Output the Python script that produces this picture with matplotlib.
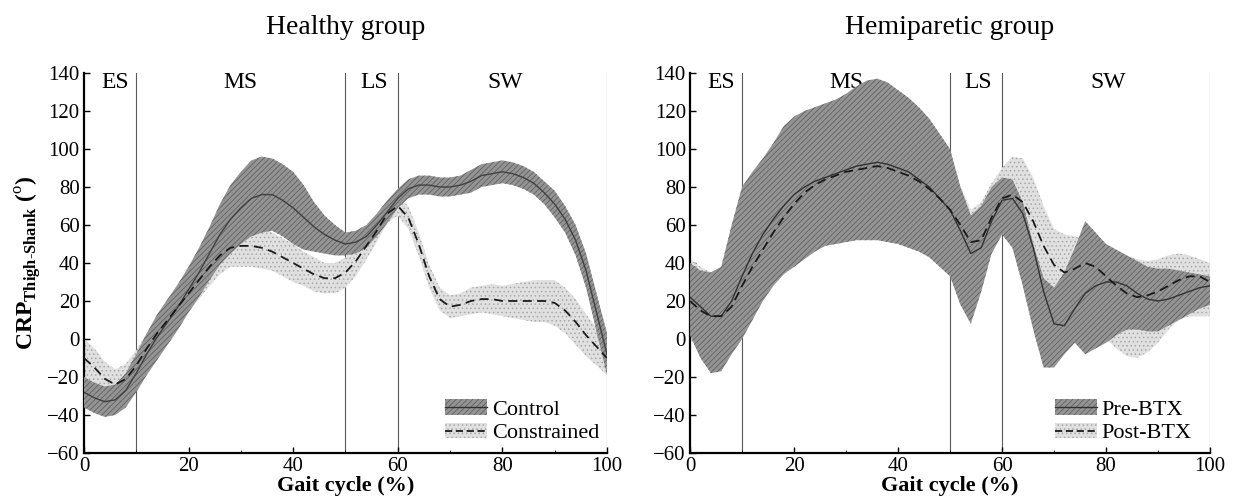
import matplotlib
matplotlib.use("Agg")
import matplotlib.pyplot as plt
import numpy as np
from matplotlib.patches import Patch
from matplotlib.lines import Line2D

plt.rcParams['font.family'] = ['Liberation Serif', 'DejaVu Serif']
plt.rcParams['mathtext.fontset'] = 'custom'
plt.rcParams['mathtext.rm'] = 'Liberation Serif'
plt.rcParams['mathtext.bf'] = 'Liberation Serif:bold'
plt.rcParams['hatch.linewidth'] = 0.6

# gait cycle (%) sampled every 2 %
gait = np.arange(0, 101, 2)

# Healthy group: control (solid) mean and half band
control_mean = [-28, -31, -33, -32, -27, -18, -8, 1, 9, 17, 26, 35, 45, 55, 63, 69, 74, 76, 76, 73,
                69, 64, 59, 55, 52, 50, 51, 54, 60, 67, 74, 79, 81, 81, 80, 80, 81, 83, 86, 87,
                88, 87, 85, 82, 77, 71, 63, 52, 36, 14, -8]
control_sd = [8, 8, 8, 8, 9, 10, 11, 12, 12, 12, 12, 13, 14, 16, 18, 19, 20, 20, 19, 19,
              19, 17, 13, 10, 8, 6, 6, 6, 6, 6, 5, 5, 5, 5, 5, 5, 5, 6, 6, 6,
              6, 6, 6, 6, 6, 7, 7, 8, 9, 10, 11]
# Healthy group: constrained (dashed)
constr_mean = [-10, -15, -21, -24, -21, -14, -5, 3, 10, 17, 24, 31, 38, 44, 48, 49, 49, 48, 46, 43,
               40, 37, 34, 32, 32, 35, 41, 49, 57, 66, 70, 64, 50, 33, 21, 17, 18, 20, 21, 21,
               20, 20, 20, 20, 20, 19, 15, 9, 2, -4, -10]
constr_sd = [10, 10, 9, 8, 8, 8, 8, 8, 8, 9, 9, 10, 10, 10, 10, 11, 11, 11, 10, 10,
             10, 9, 9, 8, 8, 8, 8, 7, 6, 5, 5, 6, 6, 6, 6, 6, 6, 7, 7, 8,
             8, 9, 10, 11, 11, 12, 12, 12, 11, 10, 9]

# Hemiparetic group: pre-BTX (solid)
pre_mean = [22, 17, 12, 12, 20, 33, 45, 55, 63, 70, 76, 80, 83, 85, 87, 89, 91, 92, 93, 92,
            90, 88, 84, 80, 74, 68, 57, 45, 48, 62, 73, 74, 66, 48, 25, 8, 7, 16, 24, 28,
            30, 30, 28, 24, 21, 20, 21, 23, 25, 27, 28]
pre_hi = [40, 36, 35, 38, 60, 80, 88, 95, 103, 112, 117, 120, 122, 124, 126, 129, 133, 136, 137, 135,
          131, 127, 122, 116, 108, 100, 80, 65, 70, 80, 85, 84, 72, 50, 32, 27, 35, 48, 62, 56,
          50, 47, 44, 41, 38, 37, 37, 36, 35, 34, 33]
pre_lo = [2, -10, -18, -17, -8, 0, 10, 20, 28, 34, 38, 42, 46, 49, 50, 51, 52, 52, 52, 51,
          50, 48, 46, 43, 38, 33, 18, 8, 25, 45, 55, 48, 28, 5, -15, -15, -8, -2, -8, -5,
          -2, 2, 5, 5, 4, 4, 7, 10, 13, 16, 18]
# Hemiparetic group: post-BTX (dashed)
post_mean = [20, 15, 12, 12, 17, 28, 38, 47, 56, 64, 71, 77, 81, 84, 86, 88, 89, 90, 91, 90,
             88, 86, 83, 79, 74, 68, 60, 51, 52, 64, 74, 76, 72, 62, 49, 39, 35, 37, 40, 38,
             33, 28, 24, 22, 23, 25, 28, 31, 33, 33, 30]
post_hi = [42, 38, 35, 38, 48, 60, 68, 76, 84, 92, 97, 100, 103, 106, 108, 110, 111, 112, 112, 111,
           110, 108, 105, 101, 97, 92, 80, 68, 72, 82, 90, 96, 95, 85, 70, 58, 55, 54, 52, 50,
           48, 46, 44, 42, 41, 42, 44, 45, 44, 42, 40]
post_lo = [0, -6, -10, -6, 0, 5, 12, 20, 28, 36, 44, 50, 55, 58, 61, 63, 64, 65, 65, 64,
           62, 60, 57, 53, 48, 42, 38, 32, 35, 45, 55, 55, 48, 38, 28, 20, 15, 13, 12, 5,
           0, -5, -9, -10, -7, -2, 5, 10, 12, 12, 12]

phase_bounds = [10, 50, 60, 100]
phase_names = ['ES', 'MS', 'LS', 'SW']
phase_pos = [6, 30, 55.5, 80.5]

dark = dict(facecolor='0.58', edgecolor='0.38', hatch='//////', linewidth=0)
light = dict(facecolor='0.88', edgecolor='0.66', hatch='....', linewidth=0)

fig = plt.figure(figsize=(12.4, 5.03), dpi=100)
ax1 = fig.add_axes([0.0677, 0.0994, 0.4218, 0.7555])
ax2 = fig.add_axes([0.5565, 0.0994, 0.4193, 0.7555])


def setup(ax, title):
    ax.set_xlim(0, 100)
    ax.set_ylim(-60, 140)
    ax.spines['top'].set_visible(False)
    ax.spines['right'].set_visible(False)
    ax.spines['left'].set_linewidth(1.6)
    ax.spines['bottom'].set_linewidth(1.6)
    ax.set_xticks(range(0, 101, 20))
    ax.set_yticks(range(-60, 141, 20))
    ax.set_xticks([10, 30, 50, 70, 90], minor=True)
    ax.tick_params(direction='in', length=4, width=1, labelsize=15, pad=3)
    ax.tick_params(which='minor', direction='in', length=2)
    for b in phase_bounds:
        ax.axvline(b, color='0.35', lw=0.8, zorder=1)
    for name, p in zip(phase_names, phase_pos):
        ax.text(p, 135, name, ha='center', va='center', fontsize=17)
    ax.set_title(title, fontsize=20, pad=28)
    ax.set_xlabel('Gait cycle (%)', fontsize=16, fontweight='bold', labelpad=0)


setup(ax1, 'Healthy group')
setup(ax2, 'Hemiparetic group')

cm = np.array(control_mean)
cs = np.array(control_sd)
km = np.array(constr_mean)
ks = np.array(constr_sd)
ax1.fill_between(gait, km - ks, km + ks, zorder=2, **light)
ax1.fill_between(gait, cm - cs, cm + cs, zorder=3, **dark)
ax1.plot(gait, cm, color='0.25', lw=1.0, zorder=4)
ax1.plot(gait, km, color='0.1', lw=1.3, ls=(0, (5, 3)), zorder=5)
ax1.set_ylabel(r'CRP$_{\mathbf{Thigh}\text{-}\mathbf{Shank}}$ ($^{\rm o}$)',
               fontsize=17, fontweight='bold', labelpad=2)

ax2.fill_between(gait, post_lo, post_hi, zorder=2, **light)
ax2.fill_between(gait, pre_lo, pre_hi, zorder=3, **dark)
ax2.plot(gait, pre_mean, color='0.2', lw=1.0, zorder=4)
ax2.plot(gait, post_mean, color='0.1', lw=1.3, ls=(0, (5, 3)), zorder=5)

for ax, labels, xa in [(ax1, ['Control', 'Constrained'], 1.01),
                       (ax2, ['Pre-BTX', 'Post-BTX'], 0.99)]:
    h1 = (Patch(**dark), Line2D([], [], color='0.2', lw=1.0))
    h2 = (Patch(**light), Line2D([], [], color='0.1', lw=1.3, ls=(0, (4, 2))))
    ax.legend([h1, h2], labels, loc='lower right', frameon=False, fontsize=16,
              handlelength=1.9, handletextpad=0.2, labelspacing=0.15,
              borderaxespad=0.2, bbox_to_anchor=(xa, -0.01))

fig.savefig('out.png', dpi=100)
